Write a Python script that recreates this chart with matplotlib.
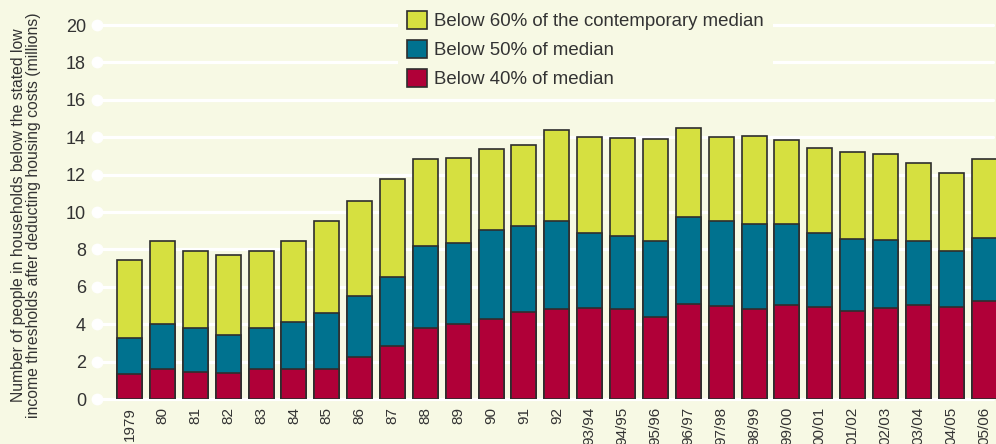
import numpy as np
import matplotlib
matplotlib.use("Agg")
import matplotlib.pyplot as plt
from matplotlib.patches import Patch

plt.rcParams['font.family'] = ['Liberation Sans', 'DejaVu Sans']

# survey years (tick labels)
years = ["1979", "80", "81", "82", "83", "84", "85", "86", "87", "88", "89", "90", "91", "92",
         "93/94", "94/95", "95/96", "96/97", "97/98", "98/99", "99/00", "00/01", "01/02",
         "02/03", "03/04", "04/05", "05/06"]

# millions of people below each threshold (cumulative)
below60 = [7.43, 8.45, 7.93, 7.72, 7.93, 8.45, 9.54, 10.59, 11.78, 12.81, 12.89, 13.37, 13.60,
           14.37, 14.03, 13.96, 13.90, 14.49, 14.03, 14.08, 13.87, 13.42, 13.22, 13.12, 12.60,
           12.10, 12.85]
below50 = [3.24, 4.01, 3.78, 3.40, 3.81, 4.12, 4.62, 5.51, 6.51, 8.18, 8.32, 9.02, 9.23, 9.54,
           8.89, 8.73, 8.45, 9.72, 9.50, 9.38, 9.34, 8.88, 8.54, 8.50, 8.43, 7.90, 8.61]
below40 = [1.35, 1.62, 1.46, 1.41, 1.62, 1.60, 1.59, 2.25, 2.83, 3.81, 3.99, 4.26, 4.67, 4.81,
           4.88, 4.79, 4.40, 5.06, 4.99, 4.83, 5.01, 4.94, 4.69, 4.88, 5.03, 4.90, 5.26]

labels = ["Below 60% of the contemporary median", "Below 50% of median", "Below 40% of median"]

bg = "#f7f9e4"
c60 = "#d6e040"
c50 = "#00728f"
c40 = "#b00038"
edge = "#2e2e2e"
txt = "#333333"

W, H = 996, 444
fig = plt.figure(figsize=(W / 100, H / 100), dpi=100, facecolor=bg)
ax = fig.add_axes([97 / W, 1 - 399 / H, 1 - 97 / W, (399 - 25) / H])
ax.set_facecolor(bg)

x = np.arange(len(years))
xmin, xmax = -0.99, 26.36
ax.set_xlim(xmin, xmax)
ax.set_ylim(0, 20)

# white gridlines with round dot at the left end
for yv in range(0, 21, 2):
    ax.plot([xmin, 26.27], [yv, yv], color="white", lw=2.3, solid_capstyle="round",
            zorder=0, clip_on=False)
    ax.plot([xmin], [yv], "o", color="white", ms=7.5, zorder=0, clip_on=False)

w = 0.76
ax.bar(x, below60, width=w, color=c60, edgecolor=edge, linewidth=1.2, zorder=2)
ax.bar(x, below50, width=w, color=c50, edgecolor=edge, linewidth=1.2, zorder=3)
ax.bar(x, below40, width=w, color=c40, edgecolor=edge, linewidth=1.2, zorder=4)

for s in ax.spines.values():
    s.set_visible(False)

ax.set_yticks(range(0, 21, 2))
ax.set_yticklabels([str(v) for v in range(0, 21, 2)], fontsize=13, color=txt)
ax.set_xticks(x)
ax.set_xticklabels(years, rotation=90, fontsize=11, color=txt, va="top")
ax.tick_params(axis="y", length=0, pad=8)
ax.tick_params(axis="x", length=0, pad=5.5)

fig.text(26 / W, 1 - 215 / H,
         "Number of people in households below the stated low\n"
         "income thresholds after deducting housing costs (millions)",
         rotation=90, ha="center", va="center", multialignment="center",
         fontsize=11.3, color=txt, linespacing=1.05)

handles = [Patch(facecolor=c, edgecolor=edge, linewidth=1.2) for c in (c60, c50, c40)]
leg = fig.legend(handles, labels, loc="upper left", bbox_to_anchor=(398 / W, 1 - 2 / H),
                 fontsize=13.4, frameon=True, facecolor=bg, edgecolor=bg, framealpha=1,
                 handlelength=1.07, handleheight=1.07, handletextpad=0.37, labelspacing=0.53,
                 borderpad=0.5, borderaxespad=0, fancybox=False)
leg.get_frame().set_linewidth(0)
for t in leg.get_texts():
    t.set_color(txt)

fig.savefig("out.png", dpi=100, facecolor=bg)
